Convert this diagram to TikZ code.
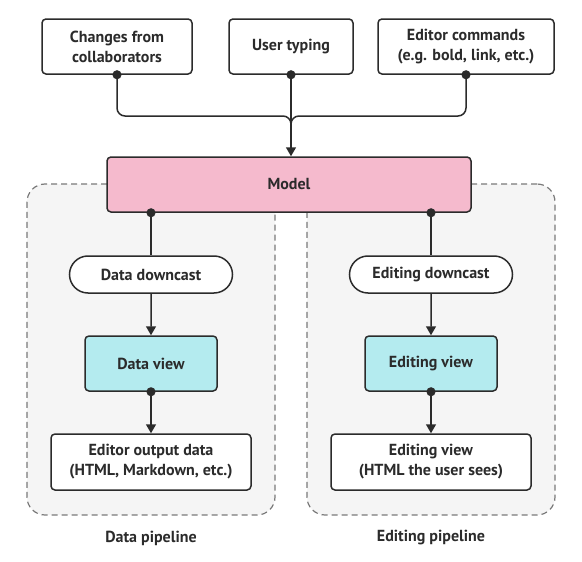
\documentclass[tikz,border=0pt]{standalone}
\usepackage{fontspec}
\setmainfont{PT Sans}
\usepackage{tikz}
\usetikzlibrary{arrows.meta,shapes.misc,positioning}
\definecolor{linecol}{HTML}{2B2B2B}
\definecolor{modelpink}{HTML}{F5BACD}
\definecolor{viewcyan}{HTML}{B4EBEF}
\definecolor{pipegray}{HTML}{F5F5F5}
\definecolor{dashgray}{HTML}{7A7A7A}

\begin{document}
\begin{tikzpicture}[x=1pt, y=-1pt, line width=1.5pt, draw=linecol, text=linecol,
    font=\fontsize{16}{20}\selectfont\bfseries,
    box/.style={draw=linecol, rectangle, rounded corners=4pt, fill=white, align=center, inner sep=0pt},
    pill/.style={draw=linecol, rounded rectangle, fill=white, align=center, inner sep=0pt, minimum width=163pt, minimum height=37pt},
    pipe/.style={draw=dashgray, dash pattern=on 6pt off 4pt, line width=1.2pt, fill=pipegray, rounded corners=18pt, minimum width=248pt, minimum height=331pt},
    flow/.style={linecol, line width=1.5pt, -{Triangle[length=9pt,width=10pt]}},
    dotflow/.style={linecol, line width=1.5pt, {Circle[length=9pt]}-{Triangle[length=9pt,width=10pt]}, shorten <=-4.5pt},
    dotline/.style={linecol, line width=1.5pt, {Circle[length=9pt]}-, shorten <=-4.5pt}]
	\useasboundingbox (0,0) rectangle (582,562);
	\node[pipe] (dpipe) at (151,349.5) {};
	\node[pipe] (epipe) at (431,349.5) {};
	\node[box, minimum width=150pt, minimum height=55pt] (chg) at (117,46.5) {Changes from\\collaborators};
	\node[box, minimum width=124pt, minimum height=55pt] (typ) at (291,46.5) {User typing};
	\node[box, minimum width=176pt, minimum height=55pt] (cmd) at (466,46.5) {Editor commands\\(e.g. bold, link, etc.)};
	\node[box, fill=modelpink, minimum width=364pt, minimum height=55pt] (model) at (289,184.5) {Model};
	\node[pill] (dcast) at (151,274.5) {Data downcast};
	\node[pill] (ecast) at (431,274.5) {Editing downcast};
	\node[box, fill=viewcyan, minimum width=132pt, minimum height=55pt] (dview) at (151,363.5) {Data view};
	\node[box, fill=viewcyan, minimum width=132pt, minimum height=55pt] (eview) at (431,363.5) {Editing view};
	\node[box, minimum width=200pt, minimum height=56pt] (dout) at (151,462) {Editor output data\\(HTML, Markdown, etc.)};
	\node[box, minimum width=200pt, minimum height=56pt] (eout) at (431,462) {Editing view\\(HTML the user sees)};
	\node (dlabel) at (151,538) {Data pipeline};
	\node (elabel) at (431,538) {Editing pipeline};
	\coordinate (join) at (typ.south |- 0,128);
	\draw[dotline, rounded corners=8pt] (chg.south) |- (join |- 0,116) -- (join);
	\draw[dotline, rounded corners=8pt] (cmd.south) |- (join |- 0,116) -- (join);
	\draw[dotflow] (typ.south) -- (typ.south |- model.north);
	\draw[dotline] (model.south -| dcast.north) -- (dcast.north);
	\draw[dotline] (model.south -| ecast.north) -- (ecast.north);
	\draw[flow] (dcast) -- (dview);
	\draw[flow] (ecast) -- (eview);
	\draw[dotflow] (dview.south) -- (dout.north);
	\draw[dotflow] (eview.south) -- (eout.north);
\end{tikzpicture}
\end{document}
